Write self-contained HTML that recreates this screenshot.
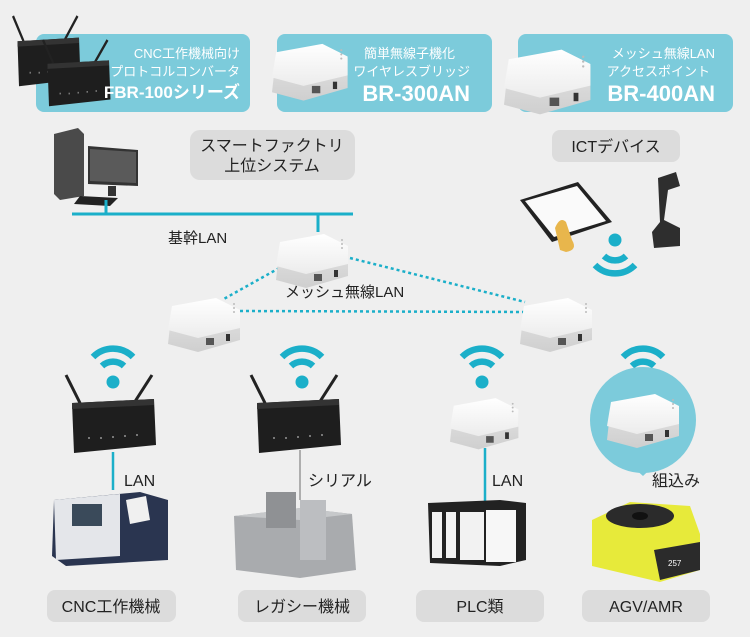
<!DOCTYPE html>
<html><head><meta charset="utf-8"><style>
html,body{margin:0;padding:0;background:#efefef;}
svg{display:block;font-family:"Liberation Sans","Noto Sans CJK JP",sans-serif;}
</style></head><body>
<svg width="750" height="637" viewBox="0 0 750 637" xmlns="http://www.w3.org/2000/svg">
<defs>
<linearGradient id="wtop" x1="0" y1="0" x2="0" y2="1"><stop offset="0" stop-color="#ffffff"/><stop offset="1" stop-color="#ececec"/></linearGradient>
<linearGradient id="wfront" x1="0" y1="0" x2="0" y2="1"><stop offset="0" stop-color="#e6e6e6"/><stop offset="1" stop-color="#cfcfcf"/></linearGradient>
<g id="wbox">
 <path d="M4 8 L50 0 L72 12 L72 40 L30 52 L0 44 Z" fill="url(#wfront)"/>
 <path d="M4 6 L48 -2 L72 10 L72 28 L30 38 L0 30 Z" fill="url(#wtop)"/>
 <rect x="38" y="38" width="8" height="7" fill="#555"/>
 <rect x="58" y="34" width="4" height="7" fill="#333"/>
 <circle cx="66" cy="4" r="1" fill="#bbb"/><circle cx="66" cy="8" r="1" fill="#bbb"/><circle cx="66" cy="12" r="1" fill="#bbb"/>
</g>
<g id="wifi" fill="none" stroke="#1bafc9" stroke-width="6.5" stroke-linecap="butt">
 <path d="M-11 -16 A16 16 0 0 1 11 -16"/>
 <path d="M-20 -25 A28 28 0 0 1 20 -25"/>
 <circle cx="0" cy="0" r="6.5" fill="#1bafc9" stroke="none"/>
</g>
<g id="router">
 <line x1="10" y1="28" x2="-4" y2="0" stroke="#222" stroke-width="3"/>
 <line x1="64" y1="28" x2="82" y2="0" stroke="#222" stroke-width="3"/>
 <path d="M2 28 L84 24 L86 70 L4 78 Z" fill="#1e1e1e"/>
 <path d="M2 28 L84 24 L84 30 L2 34 Z" fill="#333"/>
 <g fill="#777"><rect x="18" y="62" width="2" height="2"/><rect x="30" y="62" width="2" height="2"/><rect x="42" y="61" width="2" height="2"/><rect x="54" y="60" width="2" height="2"/><rect x="66" y="59" width="2" height="2"/></g>
</g>
</defs>

<!-- top banners -->
<rect x="36" y="34" width="214" height="78" rx="8" fill="#7ccbdb"/>
<rect x="277" y="34" width="215" height="78" rx="8" fill="#7ccbdb"/>
<rect x="518" y="34" width="215" height="78" rx="8" fill="#7ccbdb"/>
<use href="#router" transform="translate(16,16) scale(0.75,0.9)"/>
<use href="#router" transform="translate(46,40) scale(0.75,0.85)"/>
<use href="#wbox" transform="translate(272,46) scale(1.05)"/>
<use href="#wbox" transform="translate(504,52) scale(1.2)"/>
<g fill="#fff" text-anchor="end">
<text x="240" y="58" font-size="13">CNC工作機械向け</text>
<text x="240" y="76" font-size="13">プロトコルコンバータ</text>
<text x="240" y="98" font-size="17" font-weight="bold">FBR-100シリーズ</text>
<text x="455" y="58" font-size="13">簡単無線子機化</text>
<text x="470" y="76" font-size="13">ワイヤレスブリッジ</text>
<text x="470" y="101" font-size="22" font-weight="bold">BR-300AN</text>
<text x="715" y="58" font-size="13">メッシュ無線LAN</text>
<text x="710" y="76" font-size="13">アクセスポイント</text>
<text x="715" y="101" font-size="22" font-weight="bold">BR-400AN</text>
</g>

<!-- gray labels -->
<rect x="190" y="130" width="165" height="50" rx="10" fill="#dcdcdc"/>
<text x="272" y="151" font-size="16" text-anchor="middle" fill="#222">スマートファクトリ</text>
<text x="272" y="171" font-size="16" text-anchor="middle" fill="#222">上位システム</text>
<rect x="552" y="130" width="128" height="32" rx="8" fill="#dcdcdc"/>
<text x="616" y="152" font-size="16" text-anchor="middle" fill="#222">ICTデバイス</text>

<!-- computer -->
<path d="M54 134 L78 128 L84 134 L84 196 L60 200 L54 194 Z" fill="#4a4a4a"/>
<path d="M88 146 L138 150 L138 186 L88 184 Z" fill="#333"/>
<path d="M90 149 L136 152 L136 183 L90 181 Z" fill="#5a5a5a"/>
<rect x="108" y="186" width="8" height="10" fill="#333"/>
<path d="M80 196 L118 198 L110 206 L74 204 Z" fill="#222"/>

<!-- backbone -->
<g stroke="#1bafc9" stroke-width="3">
<line x1="72" y1="214" x2="353" y2="214"/>
<line x1="106" y1="200" x2="106" y2="214"/>
<line x1="318" y1="214" x2="318" y2="232"/>
</g>
<text x="168" y="243" font-size="15" fill="#222">基幹LAN</text>
<g stroke="#1bafc9" stroke-width="2.5" stroke-dasharray="3,3">
<line x1="290" y1="262" x2="222" y2="300"/>
<line x1="240" y1="311" x2="525" y2="312"/>
<line x1="350" y1="258" x2="525" y2="302"/>
</g>
<text x="285" y="297" font-size="15" fill="#222">メッシュ無線LAN</text>
<use href="#wbox" transform="translate(276,236)"/>
<use href="#wbox" transform="translate(168,300)"/>
<use href="#wbox" transform="translate(520,300)"/>

<!-- ICT devices -->
<path d="M520 200 L578 182 L612 222 L552 242 Z" fill="#222"/>
<path d="M525 201 L577 186 L606 221 L554 237 Z" fill="#fafafa"/>
<path d="M555 228 Q560 216 566 222 L572 240 Q578 250 566 252 L560 250 Z" fill="#e8b64c"/>
<path d="M658 178 L676 172 L680 186 L668 190 L664 220 L680 228 L680 246 L654 248 L652 232 L660 222 Z" fill="#2e2e2e"/>
<g transform="translate(615,240) rotate(180)"><use href="#wifi"/></g>

<!-- wifi icons -->
<use href="#wifi" transform="translate(113,382)"/>
<use href="#wifi" transform="translate(302,382)"/>
<use href="#wifi" transform="translate(482,382)"/>
<use href="#wifi" transform="translate(643,382)"/>

<!-- CNC column -->
<use href="#router" transform="translate(70,375)"/>
<line x1="113" y1="452" x2="113" y2="490" stroke="#1bafc9" stroke-width="2.5"/>
<text x="124" y="486" font-size="16" fill="#222">LAN</text>
<path d="M54 500 L140 492 L168 500 L168 560 L66 566 L52 556 Z" fill="#2a3550"/>
<path d="M54 500 L120 494 L120 556 L56 560 Z" fill="#e4e6ea"/>
<rect x="72" y="504" width="30" height="22" fill="#3a4a5a"/>
<path d="M126 500 L146 496 L150 520 L130 524 Z" fill="#f0f0f0"/>

<!-- legacy column -->
<use href="#router" transform="translate(255,375)"/>
<line x1="300" y1="450" x2="300" y2="500" stroke="#999" stroke-width="1.5"/>
<text x="308" y="486" font-size="16" fill="#222">シリアル</text>
<path d="M234 516 L300 508 L352 514 L356 570 L300 578 L236 570 Z" fill="#a9abae"/>
<path d="M234 516 L300 508 L352 514 L300 520 Z" fill="#c6c8ca"/>
<rect x="266" y="492" width="30" height="36" fill="#8f9194"/>
<rect x="300" y="500" width="26" height="60" fill="#bcbec1"/>

<!-- PLC column -->
<use href="#wbox" transform="translate(450,400) scale(0.95)"/>
<line x1="485" y1="448" x2="485" y2="503" stroke="#1bafc9" stroke-width="2.5"/>
<text x="492" y="486" font-size="16" fill="#222">LAN</text>
<path d="M428 503 L500 500 L526 503 L526 560 L500 566 L430 563 Z" fill="#222"/>
<rect x="432" y="512" width="10" height="46" fill="#f2f2f2"/>
<rect x="446" y="512" width="10" height="46" fill="#f2f2f2"/>
<rect x="460" y="512" width="24" height="48" fill="#f2f2f2"/>
<rect x="486" y="510" width="30" height="52" fill="#f7f7f7"/>

<!-- AGV column -->
<path d="M625 460 L643 476 L660 460 Z" fill="#7ccbdb"/>
<circle cx="643" cy="420" r="53" fill="#7ccbdb"/>
<use href="#wbox" transform="translate(607,396)"/>
<text x="652" y="486" font-size="16" fill="#222">組込み</text>
<path d="M592 520 L630 502 L690 506 L700 534 L700 570 L660 582 L592 566 Z" fill="#e7ea3a"/>
<ellipse cx="640" cy="516" rx="34" ry="12" fill="#2b2b2b"/>
<ellipse cx="640" cy="516" rx="8" ry="4" fill="#111"/>
<path d="M654 550 L700 542 L700 570 L660 580 Z" fill="#2b2b2b"/>
<text x="668" y="566" font-size="8" fill="#fff">257</text>

<!-- bottom labels -->
<g fill="#dcdcdc">
<rect x="47" y="590" width="129" height="32" rx="8"/>
<rect x="238" y="590" width="128" height="32" rx="8"/>
<rect x="416" y="590" width="128" height="32" rx="8"/>
<rect x="582" y="590" width="128" height="32" rx="8"/>
</g>
<g font-size="16" text-anchor="middle" fill="#222">
<text x="111" y="612">CNC工作機械</text>
<text x="302" y="612">レガシー機械</text>
<text x="480" y="612">PLC類</text>
<text x="646" y="612">AGV/AMR</text>
</g>
</svg>
</body></html>
